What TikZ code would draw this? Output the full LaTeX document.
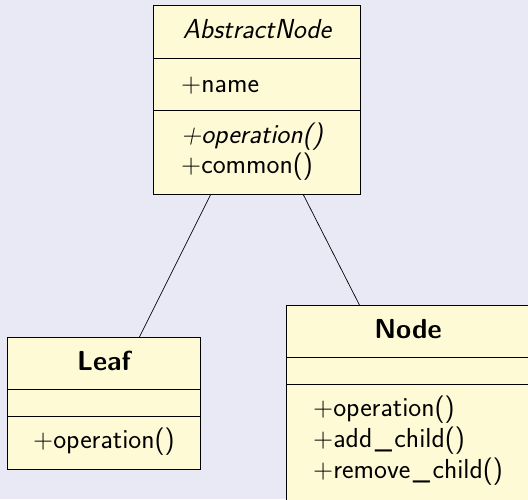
\documentclass[tikz,border=0pt]{standalone}
\usepackage{fontspec}
\definecolor{bgcol}{RGB}{233,233,246}
\definecolor{boxfill}{RGB}{255,250,214}
\newcommand{\fsz}{\fontsize{27.5}{31}\selectfont}
\newcommand{\usc}{\kern2.5pt\_\kern2.5pt}
\tikzset{
  cls/.style={draw=black, fill=boxfill, line width=0.9pt, inner sep=0pt, anchor=north west},
  sep/.style={draw=black, line width=0.9pt},
  conn/.style={draw=black, line width=0.7pt},
  lbl/.style={font=\sffamily\fsz, inner sep=0pt},
  lbli/.style={font=\sffamily\itshape\fsz, inner sep=0pt},
  lblb/.style={font=\sffamily\bfseries\fsz, inner sep=0pt},
}
\begin{document}
\begin{tikzpicture}[x=1pt,y=-1pt]
\useasboundingbox (0,0) rectangle (528,499);
\clip (0,0) rectangle (528,499);
\fill[bgcol] (0,0) rectangle (528,499);
% AbstractNode
\node[cls, minimum width=207pt, minimum height=189pt] (abs) at (153,5) {};
\draw[sep] ([yshift=-53pt]abs.north west) -- ([yshift=-53pt]abs.north east);
\draw[sep] ([yshift=-105pt]abs.north west) -- ([yshift=-105pt]abs.north east);
\node[lbli, anchor=base] (absT) at (257,38) {AbstractNode};
\node[lbl, anchor=base west] (absA) at (181,92) {+name};
\node[lbli, anchor=base west] (absM1) at (181,143) {+operation()};
\node[lbl, anchor=base west] (absM2) at (181,173) {+common()};
% Leaf
\node[cls, minimum width=193pt, minimum height=131.5pt] (leaf) at (7,337) {};
\draw[sep] ([yshift=-52pt]leaf.north west) -- ([yshift=-52pt]leaf.north east);
\draw[sep] ([yshift=-79pt]leaf.north west) -- ([yshift=-79pt]leaf.north east);
\node[lblb, anchor=base] (leafT) at (104,370) {Leaf};
\node[lbl, anchor=base west] (leafM1) at (33,448) {+operation()};
% Node
\node[cls, minimum width=243pt, minimum height=200pt] (nd) at (286,305) {};
\draw[sep] ([yshift=-52pt]nd.north west) -- ([yshift=-52pt]nd.north east);
\draw[sep] ([yshift=-79pt]nd.north west) -- ([yshift=-79pt]nd.north east);
\node[lblb, anchor=base] (ndT) at (408,338) {Node};
\node[lbl, anchor=base west] (ndM1) at (313,416) {+operation()};
\node[lbl, anchor=base west] (ndM2) at (313,447) {+add\usc child()};
\node[lbl, anchor=base west] (ndM3) at (313,478) {+remove\usc child()};
% connectors
\coordinate (a1) at ([xshift=-46.5pt]abs.south);
\coordinate (a2) at ([xshift=46.5pt]abs.south);
\coordinate (l1) at ([xshift=35.5pt]leaf.north);
\coordinate (n1) at ([xshift=-48.5pt]nd.north);
\draw[conn] (a1) -- (l1);
\draw[conn] (a2) -- (n1);
\end{tikzpicture}
\end{document}
